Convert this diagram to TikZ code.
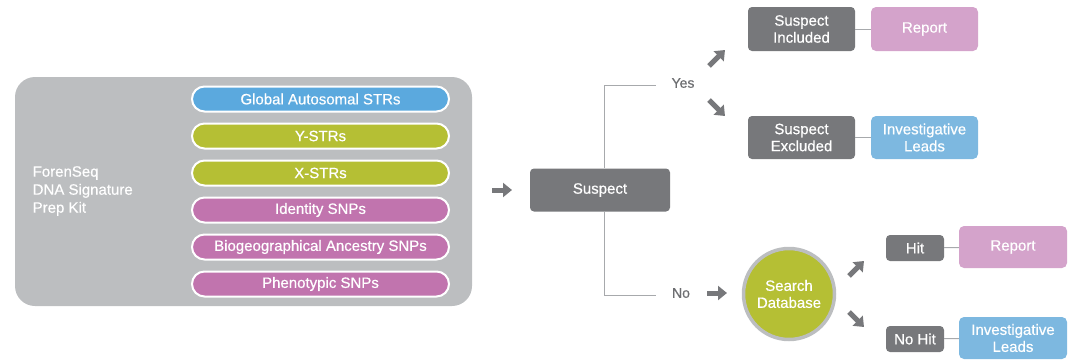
\documentclass[tikz,border=0pt]{standalone}
\usepackage{fontspec}
\setmainfont{Liberation Sans}[FakeBold=0.5]
\usetikzlibrary{arrows.meta,positioning}

\definecolor{kitgray}{HTML}{BCBEC0}
\definecolor{boxgray}{HTML}{77787B}
\definecolor{textgray}{HTML}{6D6E71}
\definecolor{linegray}{HTML}{A7A9AC}
\definecolor{strblue}{HTML}{5BA9DE}
\definecolor{strolive}{HTML}{B5BF34}
\definecolor{snpmagenta}{HTML}{C174AE}
\definecolor{reportpink}{HTML}{D4A3CB}
\definecolor{leadblue}{HTML}{7DB8E0}

\tikzset{
  txt/.style={font=\fontsize{15}{18}\selectfont},
  pill/.style={txt, draw=white, line width=2pt, rounded corners=12.5pt,
    minimum width=257pt, minimum height=25pt, inner sep=0pt, text=white},
  greybox/.style={txt, fill=boxgray, rounded corners=4pt, text=white,
    align=center, inner sep=0pt},
  resultbox/.style={txt, rounded corners=5pt, text=white, align=center,
    minimum width=107pt, minimum height=43pt, inner sep=0pt},
  blockarrow/.style={draw=boxgray, line width=5pt,
    -{Triangle[length=9pt,width=14pt]}},
  link/.style={draw=linegray, line width=1pt},
  answer/.style={font=\fontsize{14}{16}\selectfont, text=textgray, inner sep=0pt},
}

\begin{document}
\begin{tikzpicture}[x=1pt, y=-1pt]
    \useasboundingbox (0,0) rectangle (1069,360);

    % prep kit panel
    \node[fill=kitgray, rounded corners=20pt, minimum width=457pt,
      minimum height=229pt, inner sep=0pt] (kit) at (243.5,191.5) {};
    \node[txt, text=white, align=left, anchor=west, inner sep=0pt]
      (kitname) at (32.5,191) {ForenSeq\\DNA Signature\\Prep Kit};

    % marker panels
    \node[pill, fill=strblue]    (gastr)  at (320.5,99)  {Global Autosomal STRs};
    \node[pill, fill=strolive]   (ystr)   at (320.5,136) {Y-STRs};
    \node[pill, fill=strolive]   (xstr)   at (320.5,173) {X-STRs};
    \node[pill, fill=snpmagenta] (isnp)   at (320.5,210) {Identity SNPs};
    \node[pill, fill=snpmagenta] (bgasnp) at (320.5,247) {Biogeographical Ancestry SNPs};
    \node[pill, fill=snpmagenta] (psnp)   at (320.5,284) {Phenotypic SNPs};

    % suspect decision
    \node[greybox, minimum width=140pt, minimum height=43pt] (suspect) at (600,190) {Suspect};
    \coordinate (kitout) at (492,190);
    \coordinate (kitin)  at (512,190);
    \draw[blockarrow] (kitout) -- (kitin);

    \node[answer] (yes) at (683,83) {Yes};
    \node[answer] (no)  at (681,293) {No};
    \coordinate (yesend) at (656,85);
    \coordinate (noend)  at (656,295);
    \draw[link] ([xshift=4pt]suspect.north) |- (yesend);
    \draw[link] ([xshift=4pt]suspect.south) |- (noend);

    % suspect known
    \node[greybox, minimum width=107pt, minimum height=44pt] (incl) at (801.5,29) {Suspect\\[-1pt]Included};
    \node[resultbox, fill=reportpink, minimum height=44pt] (rep1) at (924.5,29) {Report};
    \node[greybox, minimum width=107pt, minimum height=43pt] (excl) at (801.5,137.5) {Suspect\\[-1pt]Excluded};
    \node[resultbox, fill=leadblue] (lead1) at (924.5,137.5) {Investigative\\[-1pt]Leads};
    \draw[link] (incl) -- (rep1);
    \draw[link] (excl) -- (lead1);

    \coordinate (ya) at (709,66);
    \coordinate (yb) at (725,50);
    \coordinate (yc) at (709,100);
    \coordinate (yd) at (725,116);
    \draw[blockarrow] (ya) -- (yb);
    \draw[blockarrow] (yc) -- (yd);

    % database search
    \node[txt, circle, fill=strolive, draw=kitgray, line width=3.5pt,
      minimum size=91pt, inner sep=0pt, text=white, align=center]
      (search) at (789,294) {Search\\[-1pt]Database};
    \coordinate (na) at (707,293);
    \coordinate (nb) at (727,293);
    \draw[blockarrow] (na) -- (nb);

    \coordinate (sa) at (849,276);
    \coordinate (sb) at (864,261);
    \coordinate (sc) at (849,312);
    \coordinate (sd) at (864,327);
    \draw[blockarrow] (sa) -- (sb);
    \draw[blockarrow] (sc) -- (sd);

    \node[greybox, minimum width=58pt, minimum height=26pt] (hit)   at (915,248) {Hit};
    \node[greybox, minimum width=58pt, minimum height=26pt] (nohit) at (915,339) {No Hit};
    \node[resultbox, fill=reportpink, minimum width=108pt, minimum height=42pt] (rep2) at (1013,247) {Report};
    \node[resultbox, fill=leadblue, minimum width=108pt, minimum height=42pt] (lead2) at (1013,338) {Investigative\\[-1pt]Leads};
    \draw[link] (hit) -- (rep2);
    \draw[link] (nohit) -- (lead2);
\end{tikzpicture}
\end{document}
